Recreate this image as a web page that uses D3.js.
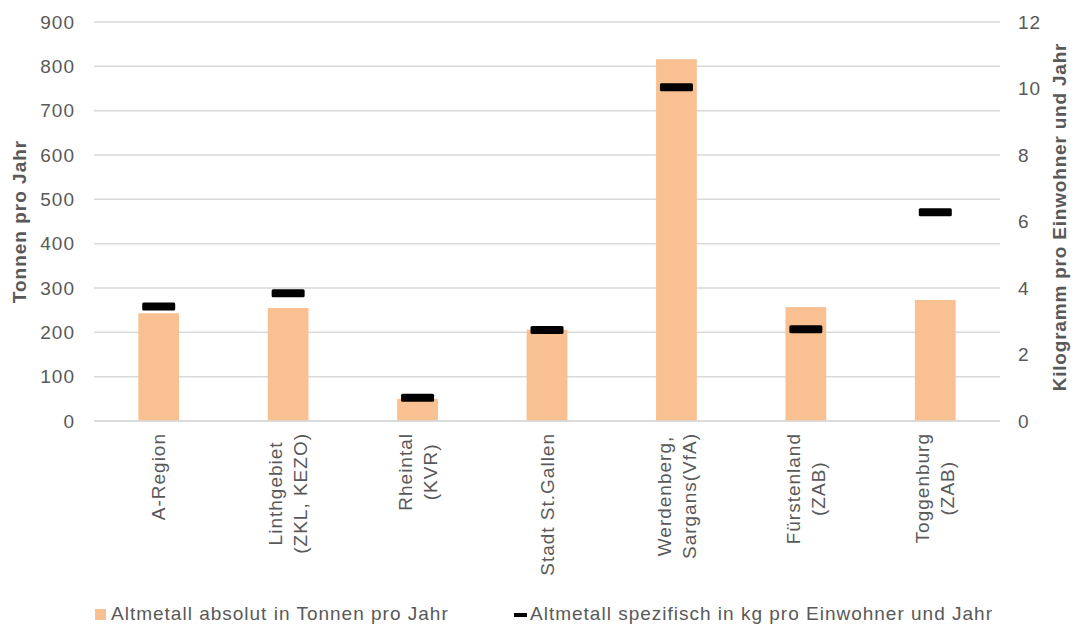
<!DOCTYPE html>
<html>
<head>
<meta charset="utf-8">
<script src="https://cdn.jsdelivr.net/npm/d3@7"></script>
<style>
  html, body { margin: 0; padding: 0; background: #fff; }
  svg text { font-family: "Liberation Sans", Arial, sans-serif; fill: #595959; letter-spacing: 1px; }
</style>
</head>
<body>
<svg id="chart" width="1075" height="625"></svg>
<script>
// regions, each label split into its lines
const categories = [
  ['A-Region'],
  ['Linthgebiet', '(ZKL, KEZO)'],
  ['Rheintal', '(KVR)'],
  ['Stadt St.Gallen'],
  ['Werdenberg,', 'Sargans(VfA)'],
  ['Fürstenland', '(ZAB)'],
  ['Toggenburg', '(ZAB)']
];
// tonnes per year (bars, left axis)
const absoluteValues = [243, 255, 50, 206, 816, 257, 273];
// kg per inhabitant and year (markers, right axis)
const specificValues = [3.44, 3.84, 0.70, 2.74, 10.04, 2.76, 6.28];

const leftTicks = [0, 100, 200, 300, 400, 500, 600, 700, 800, 900];
const rightTicks = [0, 2, 4, 6, 8, 10, 12];

const seriesNames = [
  'Altmetall absolut in Tonnen pro Jahr',
  'Altmetall spezifisch in kg pro Einwohner und Jahr'
];

const margin = { left: 94, right: 1000, top: 22, bottom: 421 };
const barColor = '#F9C192';
const gridColor = '#D9D9D9';

const svg = d3.select('#chart');
const keys = categories.map((c) => c.join(' '));

const x = d3.scaleBand()
  .domain(keys)
  .range([margin.left, margin.right])
  .padding(0);

const yLeft = d3.scaleLinear().domain([0, 900]).range([margin.bottom, margin.top]);
const yRight = d3.scaleLinear().domain([0, 12]).range([margin.bottom, margin.top]);

// gridlines
svg.append('g')
  .selectAll('line')
  .data(leftTicks)
  .join('line')
  .attr('x1', margin.left)
  .attr('x2', margin.right)
  .attr('y1', (d) => yLeft(d))
  .attr('y2', (d) => yLeft(d))
  .attr('stroke', gridColor)
  .attr('stroke-width', 1.5);

// left axis
const leftAxis = svg.append('g')
  .attr('transform', `translate(${margin.left},0)`)
  .call(d3.axisLeft(yLeft).tickValues(leftTicks).tickSize(0).tickPadding(19));
leftAxis.select('.domain').remove();
leftAxis.selectAll('text').style('font-size', '19px').attr('fill', '#595959');

// right axis
const rightAxis = svg.append('g')
  .attr('transform', `translate(${margin.right},0)`)
  .call(d3.axisRight(yRight).tickValues(rightTicks).tickSize(0).tickPadding(18));
rightAxis.select('.domain').remove();
rightAxis.selectAll('text').style('font-size', '19px').attr('fill', '#595959');

// bars
const barWidth = x.bandwidth() * 0.315;
svg.append('g')
  .selectAll('rect')
  .data(absoluteValues)
  .join('rect')
  .attr('x', (d, i) => x(keys[i]) + x.bandwidth() / 2 - barWidth / 2)
  .attr('y', (d) => yLeft(d))
  .attr('width', barWidth)
  .attr('height', (d) => yLeft(0) - yLeft(d))
  .attr('fill', barColor);

// baseline redrawn on top of bars
svg.append('line')
  .attr('x1', margin.left)
  .attr('x2', margin.right)
  .attr('y1', yLeft(0))
  .attr('y2', yLeft(0))
  .attr('stroke', gridColor)
  .attr('stroke-width', 1.5);

// dash markers
const markW = 33, markH = 8;
svg.append('g')
  .selectAll('rect')
  .data(specificValues)
  .join('rect')
  .attr('x', (d, i) => x(keys[i]) + x.bandwidth() / 2 - markW / 2)
  .attr('y', (d) => yRight(d) - markH / 2)
  .attr('width', markW)
  .attr('height', markH)
  .attr('rx', 1.5)
  .attr('fill', '#000');

// category labels, rotated; lines centred on each other, block ends near the axis
const lineH = 25;
categories.forEach((lines, i) => {
  const cx = x(keys[i]) + x.bandwidth() / 2;
  const t = svg.append('text')
    .attr('transform', `translate(${cx},433) rotate(-90)`)
    .attr('text-anchor', 'middle')
    .style('font-size', '19px');
  const spans = lines.map((line, j) => t.append('tspan')
    .attr('y', (j - (lines.length - 1) / 2) * lineH)
    .attr('dy', '0.35em')
    .text(line));
  const maxLen = d3.max(spans, (s) => s.node().getComputedTextLength());
  spans.forEach((s) => s.attr('x', -maxLen / 2));
});

// axis titles
svg.append('text')
  .attr('transform', `translate(26,${(margin.top + margin.bottom) / 2}) rotate(-90)`)
  .attr('text-anchor', 'middle')
  .style('font-size', '19px')
  .style('font-weight', 'bold')
  .text('Tonnen pro Jahr');

svg.append('text')
  .attr('transform', `translate(1066,217) rotate(-90)`)
  .attr('text-anchor', 'middle')
  .style('font-size', '19px')
  .style('font-weight', 'bold')
  .style('letter-spacing', '0.8px')
  .text('Kilogramm pro Einwohner und Jahr');

// legend
const legend = svg.append('g');
legend.append('rect')
  .attr('x', 95).attr('y', 609).attr('width', 11).attr('height', 11)
  .attr('fill', barColor);
legend.append('text')
  .attr('x', 111).attr('y', 620)
  .style('font-size', '19px')
  .text(seriesNames[0]);
legend.append('rect')
  .attr('x', 514).attr('y', 613).attr('width', 13).attr('height', 4)
  .attr('fill', '#000');
legend.append('text')
  .attr('x', 530).attr('y', 620)
  .style('font-size', '19px')
  .text(seriesNames[1]);
</script>
</body>
</html>
